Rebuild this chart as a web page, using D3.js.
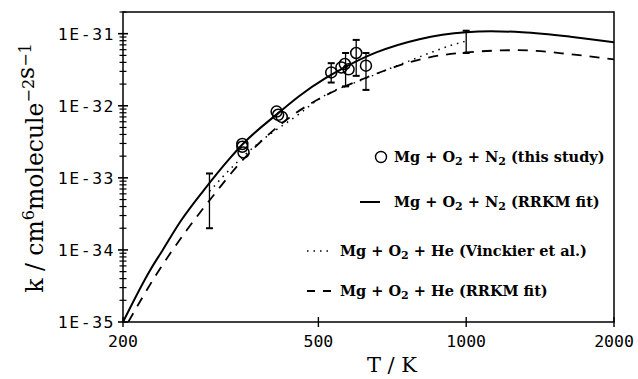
<!DOCTYPE html>
<html>
<head>
<meta charset="utf-8">
<script src="https://cdn.jsdelivr.net/npm/d3@7"></script>
<style>
  body { margin: 0; background: #fff; }
  svg { display: block; }
</style>
</head>
<body>
<div id="chart"></div>
<script>
// Mg + O2 + M rate coefficients
var xTicks = [200, 500, 1000, 2000];
var yTicks = [1e-35, 1e-34, 1e-33, 1e-32, 1e-31];
var yTickLabels = ["1E-35", "1E-34", "1E-33", "1E-32", "1E-31"];

// N2 RRKM fit (solid)
var n2FitT = [200, 227, 241, 261, 292, 330, 350, 416, 458, 519, 568, 656, 803, 1000, 1122, 1300, 1630, 2000];
var n2FitK = [1.0e-35, 5.2e-35, 1.0e-34, 2.4e-34, 6.7e-34, 1.86e-33, 2.9e-33, 8.1e-33, 1.38e-32, 2.45e-32, 3.47e-32, 5.5e-32, 8.4e-32, 1.05e-31, 1.08e-31, 1.05e-31, 9.1e-32, 7.6e-32];

// He RRKM fit (dashed)
var heFitT = [205, 234, 270, 305, 346, 410, 474, 502, 625, 766, 842, 1000, 1270, 1630, 2000];
var heFitK = [1.0e-35, 4.6e-35, 1.9e-34, 5.6e-34, 1.6e-33, 4.9e-33, 1.0e-32, 1.25e-32, 2.45e-32, 4.0e-32, 4.7e-32, 5.5e-32, 5.9e-32, 5.2e-32, 4.4e-32];

// He, Vinckier et al. (dotted)
var heVinT = [300, 340, 379, 458, 502, 625, 766, 861, 932, 1000];
var heVinK = [6.5e-34, 1.6e-33, 3.1e-33, 7.8e-33, 1.25e-32, 2.4e-32, 4.2e-32, 5.7e-32, 6.9e-32, 7.9e-32];

// this study (circles)
var obsT = [350, 350, 352, 411, 414, 421, 531, 557, 566, 576, 597, 625];
var obsK = [2.95e-33, 2.7e-33, 2.25e-33, 8.3e-33, 7.5e-33, 7.0e-33, 2.9e-32, 3.4e-32, 3.8e-32, 3.2e-32, 5.4e-32, 3.6e-32];

// error bars
var errT = [300, 531, 568, 597, 625, 1000];
var errLo = [2.0e-34, 2.1e-32, 1.86e-32, 2.6e-32, 1.66e-32, 5.4e-32];
var errHi = [1.15e-33, 3.9e-32, 5.4e-32, 8.2e-32, 5.4e-32, 1.1e-31];

var W = 638, H = 379;
var pLeft = 123, pRight = 614, pTop = 12, pBottom = 322;

var svg = d3.select("#chart").append("svg")
    .attr("width", W)
    .attr("height", H);

var x = d3.scaleLog().domain([200, 2000]).range([pLeft, pRight]);
var y = d3.scaleLog().domain([1e-35, 2e-31]).range([pBottom, pTop]);

svg.append("clipPath").attr("id", "plotClip")
    .append("rect")
    .attr("x", pLeft).attr("y", pTop)
    .attr("width", pRight - pLeft).attr("height", pBottom - pTop);

// frame
svg.append("rect")
    .attr("x", pLeft).attr("y", pTop)
    .attr("width", pRight - pLeft).attr("height", pBottom - pTop)
    .attr("fill", "none")
    .attr("stroke", "#000")
    .attr("stroke-width", 1.5);

// y ticks: majors and minors crossing the axis
var yMinor = [];
for (var e = -35; e <= -31; e++) {
    for (var m = 2; m <= 9; m++) {
        var v = m * Math.pow(10, e);
        if (v <= 2e-31) yMinor.push(v);
    }
}
svg.append("g").selectAll("line").data(yMinor).join("line")
    .attr("x1", pLeft - 3.5).attr("x2", pLeft + 3.5)
    .attr("y1", d => y(d)).attr("y2", d => y(d))
    .attr("stroke", "#000").attr("stroke-width", 1.2);
svg.append("g").selectAll("line").data(yTicks).join("line")
    .attr("x1", pLeft - 5).attr("x2", pLeft + 5)
    .attr("y1", d => y(d)).attr("y2", d => y(d))
    .attr("stroke", "#000").attr("stroke-width", 1.6);

svg.append("g").selectAll("text").data(yTicks).join("text")
    .attr("x", pLeft - 8)
    .attr("y", d => y(d) + 6)
    .attr("text-anchor", "end")
    .attr("font-family", "DejaVu Sans Mono")
    .attr("font-size", 16.5)
    .attr("letter-spacing", 1.5)
    .text((d, i) => yTickLabels[i]);

// x ticks
svg.append("g").selectAll("line").data(xTicks).join("line")
    .attr("x1", d => x(d)).attr("x2", d => x(d))
    .attr("y1", pBottom - 5).attr("y2", pBottom + 5)
    .attr("stroke", "#000").attr("stroke-width", 1.4);

svg.append("g").selectAll("text").data(xTicks).join("text")
    .attr("x", d => x(d))
    .attr("y", 347)
    .attr("text-anchor", "middle")
    .attr("font-family", "DejaVu Sans Mono")
    .attr("font-size", 16.5)
    .text(d => d);

// axis titles
svg.append("text")
    .attr("x", 392).attr("y", 372)
    .attr("text-anchor", "middle")
    .attr("font-family", "DejaVu Serif")
    .attr("font-size", 21)
    .attr("xml:space", "preserve")
    .text("T / K");

var yt = svg.append("text")
    .attr("transform", "translate(43,168) rotate(-90)")
    .attr("text-anchor", "middle")
    .attr("font-family", "DejaVu Serif")
    .attr("font-size", 23.5);
yt.append("tspan").text("k / cm");
yt.append("tspan").attr("font-size", 16).attr("dy", -9).text("6");
yt.append("tspan").attr("dy", 9).text("molecule");
yt.append("tspan").attr("font-size", 16).attr("dy", -9).text("\u22122");
yt.append("tspan").attr("dy", 0).text("s");
yt.append("tspan").attr("font-size", 16).attr("dy", -3).text("\u22121");

// curves
function series(ts, ks) {
    return ts.map((t, i) => [t, ks[i]]);
}
var line = d3.line()
    .x(d => x(d[0]))
    .y(d => y(d[1]))
    .curve(d3.curveMonotoneX);

var plot = svg.append("g").attr("clip-path", "url(#plotClip)");

plot.append("path")
    .attr("d", line(series(n2FitT, n2FitK)))
    .attr("fill", "none").attr("stroke", "#000").attr("stroke-width", 2);

plot.append("path")
    .attr("d", line(series(heFitT, heFitK)))
    .attr("fill", "none").attr("stroke", "#000").attr("stroke-width", 1.8)
    .attr("stroke-dasharray", "10,8");

plot.append("path")
    .attr("d", line(series(heVinT, heVinK)))
    .attr("fill", "none").attr("stroke", "#000").attr("stroke-width", 1.5)
    .attr("stroke-dasharray", "1.5,5");

// error bars
var errs = errT.map((t, i) => ({ t: t, lo: errLo[i], hi: errHi[i] }));
var eb = plot.append("g").selectAll("g").data(errs).join("g");
eb.append("line")
    .attr("x1", d => x(d.t)).attr("x2", d => x(d.t))
    .attr("y1", d => y(d.lo)).attr("y2", d => y(d.hi))
    .attr("stroke", "#000").attr("stroke-width", 1.3);
eb.append("line")
    .attr("x1", d => x(d.t) - 3.5).attr("x2", d => x(d.t) + 3.5)
    .attr("y1", d => y(d.hi)).attr("y2", d => y(d.hi))
    .attr("stroke", "#000").attr("stroke-width", 2);
eb.append("line")
    .attr("x1", d => x(d.t) - 3.5).attr("x2", d => x(d.t) + 3.5)
    .attr("y1", d => y(d.lo)).attr("y2", d => y(d.lo))
    .attr("stroke", "#000").attr("stroke-width", 2);

// observations
plot.append("g").selectAll("circle").data(series(obsT, obsK)).join("circle")
    .attr("cx", d => x(d[0]))
    .attr("cy", d => y(d[1]))
    .attr("r", 5.5)
    .attr("fill", "none")
    .attr("stroke", "#000")
    .attr("stroke-width", 1.5);

// legend
var legendFont = "DejaVu Serif";
function legendText(xp, yp, gas, tail) {
    var t = svg.append("text")
        .attr("x", xp).attr("y", yp)
        .attr("font-family", legendFont)
        .attr("font-weight", "bold")
        .attr("font-size", 14.5)
        .attr("xml:space", "preserve");
    t.append("tspan").text("Mg + O");
    t.append("tspan").attr("font-size", 11).attr("dy", 3).text("2");
    t.append("tspan").attr("dy", -3).text(" + " + gas);
    if (gas === "N") {
        t.append("tspan").attr("font-size", 11).attr("dy", 3).text("2");
        t.append("tspan").attr("dy", -3).text(" " + tail);
    } else {
        t.append("tspan").text(" " + tail);
    }
}

svg.append("circle")
    .attr("cx", 381).attr("cy", 157).attr("r", 5.5)
    .attr("fill", "none").attr("stroke", "#000").attr("stroke-width", 1.4);
legendText(394, 162, "N", "(this study)");

svg.append("line")
    .attr("x1", 360).attr("x2", 380).attr("y1", 202).attr("y2", 202)
    .attr("stroke", "#000").attr("stroke-width", 2);
legendText(394, 207, "N", "(RRKM fit)");

svg.append("line")
    .attr("x1", 307).attr("x2", 330).attr("y1", 251).attr("y2", 251)
    .attr("stroke", "#000").attr("stroke-width", 1.5)
    .attr("stroke-dasharray", "1.5,5");
legendText(340, 256, "He", "(Vinckier et al.)");

svg.append("line")
    .attr("x1", 307).attr("x2", 331).attr("y1", 291).attr("y2", 291)
    .attr("stroke", "#000").attr("stroke-width", 1.8)
    .attr("stroke-dasharray", "8,8");
legendText(340, 296, "He", "(RRKM fit)");
</script>
</body>
</html>
